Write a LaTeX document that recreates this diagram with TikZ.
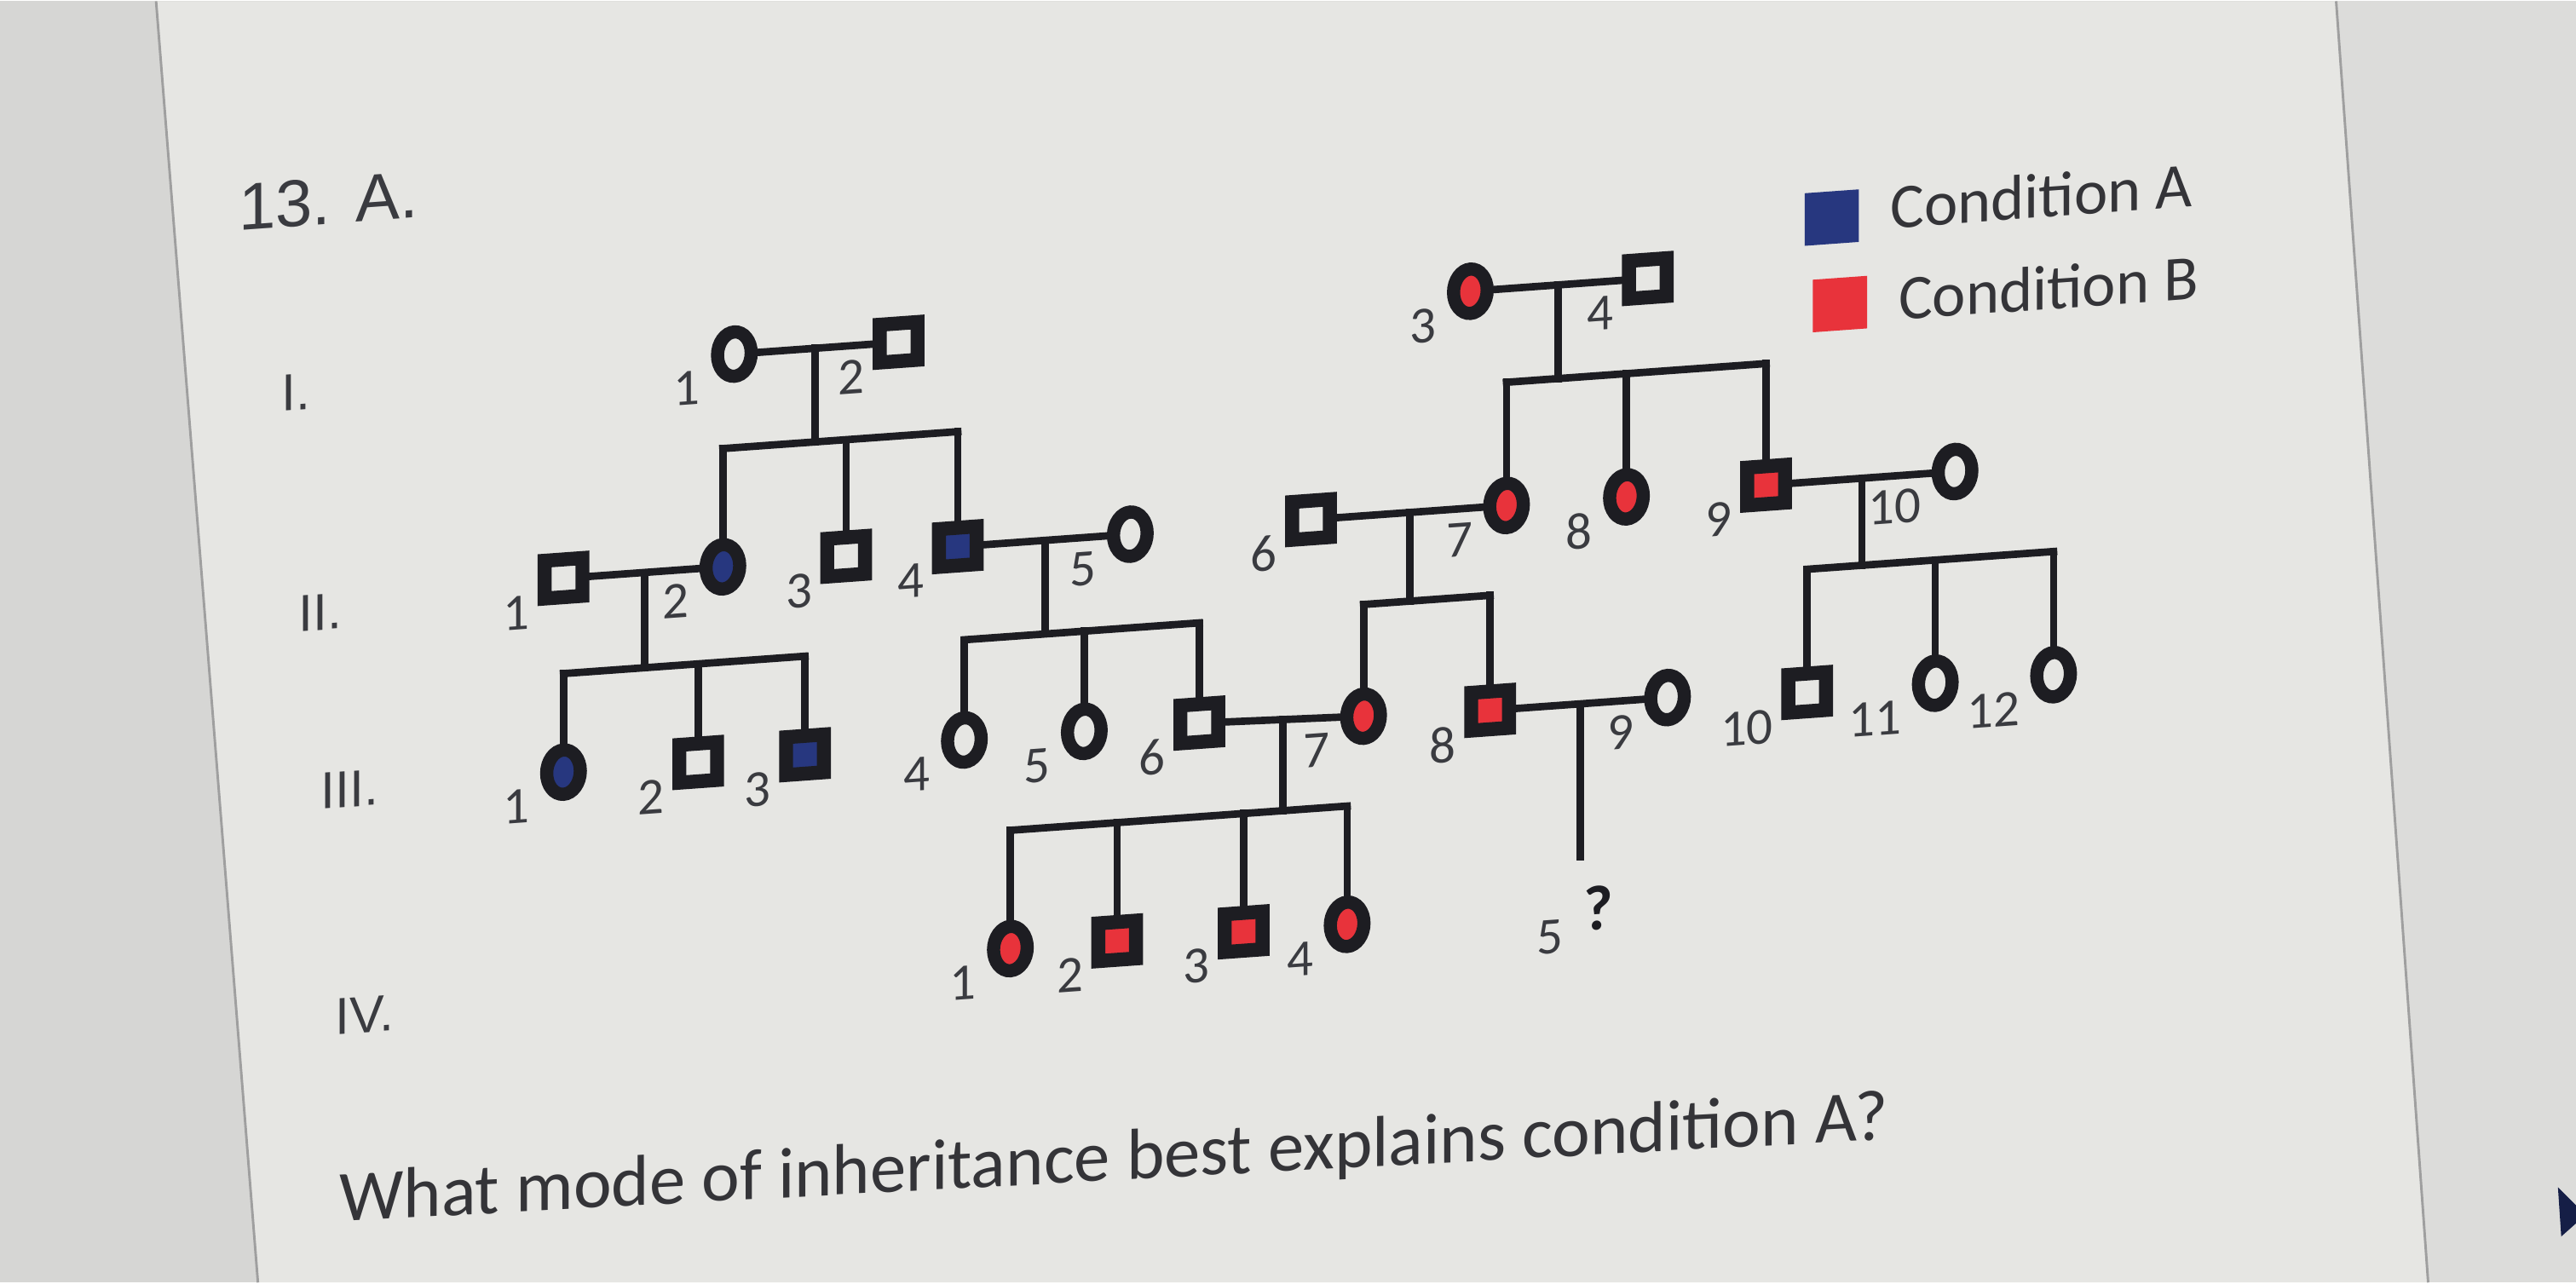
\documentclass[tikz,border=0pt]{standalone}
\usepackage{fontspec}
\setmainfont{Carlito}
\newfontfamily\arialfont{Liberation Sans}
\usetikzlibrary{shapes.geometric, calc}

\definecolor{screen}{HTML}{E6E6E3}
\definecolor{bezelL}{HTML}{D6D6D4}
\definecolor{bezelR}{HTML}{DCDCDA}
\definecolor{condA}{HTML}{27377F}
\definecolor{condB}{HTML}{E8333B}
\definecolor{ink}{HTML}{1D1D22}
\definecolor{numgray}{HTML}{3A3B40}

\tikzset{
  male/.style={rectangle, draw=ink, line width=0.85mm, minimum size=2.3mm, inner sep=0pt, fill=screen},
  female/.style={ellipse, draw=ink, line width=0.8mm, minimum width=2.05mm, minimum height=2.7mm, inner sep=0pt, fill=screen},
  num/.style={font=\fontsize{9}{11}\selectfont, text=numgray, inner sep=0pt, anchor=east},
  gen/.style={font=\arialfont\fontsize{9}{11}\selectfont, text=numgray},
  link/.style={draw=ink, line width=0.45mm, line cap=rect},
  legbox/.style={rectangle, inner sep=0pt, minimum width=3.3mm, minimum height=3.2mm},
  legtext/.style={font=\fontsize{11}{13}\selectfont, text=ink!90, anchor=west, inner sep=0pt},
}

\begin{document}
\begin{tikzpicture}[x={(0.1mm,0)}, y={(0,-0.1mm)}]

  % --- Screen and panel ---
  \fill[bezelL] (0,0) rectangle (1568,780);
  \fill[bezelR] (1422,0) rectangle (1568,780);
  \fill[screen] (95,0) -- (1422,0) -- (1478,780) -- (157,780) -- cycle;
  \draw[gray!75, line width=0.15mm] (95,0) -- (157,780);
  \draw[gray!75, line width=0.15mm] (1422,0) -- (1478,780);
  \fill[condA!55!black] (1557,722) -- (1568,733) -- (1568,744) -- (1559,752) -- cycle;
  \useasboundingbox (0,0) rectangle (1568,780);

  \begin{scope}[yslant=0.072, transform shape]

    % --- Heading and generations ---
    \node[font=\arialfont\fontsize{11.5}{13}\selectfont, text=numgray] (title) at (200,136) {13. A.};
    \node[gen] (genI) at (180,251) {I.};
    \node[gen] (genII) at (195,386) {II.};
    \node[gen] (genIII) at (213,495) {III.};
    \node[gen] (genIV) at (222,633) {IV.};

    % --- Legend ---
    \node[legbox, fill=condA] (legA) at (1115,212) {};
    \node[legbox, fill=condB] (legB) at (1120,265) {};
    \node[legtext] (legAt) at (1150,208) {Condition A};
    \node[legtext] (legBt) at (1155,264) {Condition B};

    % --- Generation I ---
    \node[female] (I1) at (447,247) {};
    \node[male] (I2) at (547,247) {};
    \node[female, fill=condB] (I3) at (895,241) {};
    \node[male] (I4) at (1003,241) {};

    % --- Generation II ---
    \node[male] (II1) at (343,376) {};
    \node[female, fill=condA] (II2) at (440,376) {};
    \node[male] (II3) at (515,375) {};
    \node[male, fill=condA] (II4) at (583,374) {};
    \node[female] (II5) at (688,374) {};
    \node[male] (II6) at (798,373) {};
    \node[female, fill=condB] (II7) at (917,373) {};
    \node[female, fill=condB] (II8) at (990,373) {};
    \node[male, fill=condB] (II9) at (1075,372) {};
    \node[female] (II10) at (1190,372) {};

    % --- Generation III ---
    \node[female, fill=condA] (III1) at (343,494) {};
    \node[male] (III2) at (425,494) {};
    \node[male, fill=condA] (III3) at (490,494) {};
    \node[female] (III4) at (587,492) {};
    \node[female] (III5) at (660,492) {};
    \node[male] (III6) at (730,492) {};
    \node[female, fill=condB] (III7) at (830,495) {};
    \node[male, fill=condB] (III8) at (907,497) {};
    \node[female] (III9) at (1015,497) {};
    \node[male] (III10) at (1100,500) {};
    \node[female] (III11) at (1178,500) {};
    \node[female] (III12) at (1250,500) {};

    % --- Generation IV ---
    \node[female, fill=condB] (IV1) at (615,621) {};
    \node[male, fill=condB] (IV2) at (680,621) {};
    \node[male, fill=condB] (IV3) at (757,621) {};
    \node[female, fill=condB] (IV4) at (820,621) {};
    \node[num] (IV5-n) at (952,638) {5};
    \node[font=\bfseries\fontsize{11}{13}\selectfont, text=ink] (IV5-q) at (973,622) {?};

    % --- Numbers ---
    \foreach \p/\n in {I1/1, I2/2, I3/3, I4/4,
        II1/1, II2/2, II3/3, II4/4, II5/5, II6/6, II7/7, II8/8, II9/9, II10/10,
        III1/1, III2/2, III3/3, III4/4, III5/5, III6/6, III7/7, III8/8, III9/9,
        III10/10, III11/11, III12/12,
        IV1/1, IV2/2, IV3/3, IV4/4}
      \node[num] (\p-n) at ($(\p)+(-20,19)$) {\n};

    % --- Matings and sibships ---
    \draw[link] (I1) -- (I2);
    \draw[link] ($(I1.east)!.5!(I2.west)$) -- ++(0,57);
    \draw[link] (440,304) -- (583,304);
    \foreach \x/\c in {440/II2, 515/II3, 583/II4}
      \draw[link] (\x,304) -- (\c);

    \draw[link] (I3) -- (I4);
    \draw[link] ($(I3.east)!.5!(I4.west)$) -- ++(0,57);
    \draw[link] (917,298) -- (1075,298);
    \foreach \x/\c in {917/II7, 990/II8, 1075/II9}
      \draw[link] (\x,298) -- (\c);

    \draw[link] (II1) -- (II2);
    \draw[link] ($(II1.east)!.5!(II2.west)$) -- ++(0,58);
    \draw[link] (343,434) -- (490,434);
    \foreach \x/\c in {343/III1, 425/III2, 490/III3}
      \draw[link] (\x,434) -- (\c);

    \draw[link] (II4) -- (II5);
    \draw[link] ($(II4.east)!.5!(II5.west)$) -- ++(0,57);
    \draw[link] (587,431) -- (730,431);
    \foreach \x/\c in {587/III4, 660/III5, 730/III6}
      \draw[link] (\x,431) -- (\c);

    \draw[link] (II6) -- (II7);
    \draw[link] ($(II6.east)!.5!(II7.west)$) -- ++(0,54);
    \draw[link] (830,427) -- (907,427);
    \foreach \x/\c in {830/III7, 907/III8}
      \draw[link] (\x,427) -- (\c);

    \draw[link] (II9) -- (II10);
    \draw[link] ($(II9.east)!.5!(II10.west)$) -- ++(0,53);
    \draw[link] (1100,425) -- (1250,425);
    \foreach \x/\c in {1100/III10, 1178/III11, 1250/III12}
      \draw[link] (\x,425) -- (\c);

    \draw[link] (III6) -- (III7);
    \draw[link] ($(III6.east)!.5!(III7.west)$) -- ++(0,55.5);
    \draw[link] (615,549) -- (820,549);
    \foreach \x/\c in {615/IV1, 680/IV2, 757/IV3, 820/IV4}
      \draw[link] (\x,549) -- (\c);

    \draw[link] (III8) -- (III9);
    \draw[link] ($(III8.east)!.5!(III9.west)$) -- ++(0,93) coordinate (IV5);

  \end{scope}

  % --- Question ---
  \begin{scope}[yslant=0.053, transform shape]
    \node[font=\fontsize{12.5}{15}\selectfont, text=ink!90] (ask) at (678,742)
      {What mode of inheritance best explains condition A?};
  \end{scope}

\end{tikzpicture}
\end{document}
